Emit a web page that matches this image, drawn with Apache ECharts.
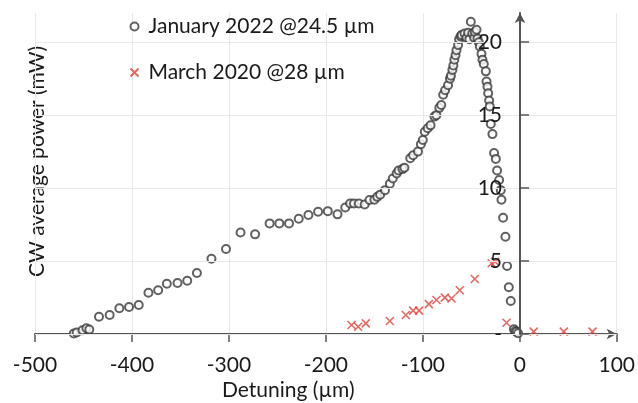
<!DOCTYPE html>
<html>
<head>
<meta charset="utf-8">
<script src="https://cdn.jsdelivr.net/npm/echarts@6/dist/echarts.min.js"></script>
<style>
  html, body { margin: 0; padding: 0; background: #fff; }
  #chart { width: 638px; height: 403px; }
</style>
</head>
<body>
<div id="chart"></div>
<script>
// detuning (um) / power (mW)
var janX = [-460, -457, -451, -447, -444, -434, -423, -413, -403, -393, -383, -373, -364, -353, -343, -333,
  -318, -303, -288, -273, -258, -248, -238, -228, -218, -208, -198, -188, -180, -175, -171, -166, -160,
  -155, -150, -147, -144, -139, -134, -131, -127, -125, -121, -119, -113, -110, -105, -102, -100, -98,
  -95, -92, -88, -86, -83, -81, -79, -77, -74, -72, -71, -69.5, -68.5, -67.5, -66.3, -65.3, -63.6,
  -62.6, -61, -60, -57, -55, -53.3, -52, -50.5, -49, -47, -46.4, -44.6, -43.6, -42.3, -41.2, -39.5,
  -38.5, -37.1, -35, -34.3, -33.3, -32.6, -31.6, -31, -29.9, -28.2, -26.5, -24.7, -23.4, -21.3, -19.6,
  -18.9, -17.2, -14.8, -13.1, -11.3, -9.3, -6, -4.5, -3.4, -1.8];
var janY = [0.03, 0.1, 0.25, 0.4, 0.3, 1.18, 1.3, 1.76, 1.85, 1.99, 2.83, 3.0, 3.45, 3.5, 3.65, 4.18,
  5.16, 5.82, 6.96, 6.83, 7.58, 7.58, 7.58, 7.9, 8.15, 8.38, 8.42, 8.2, 8.67, 8.94, 8.94, 8.94, 8.87,
  9.18, 9.2, 9.4, 9.55, 9.86, 10.3, 10.66, 11.0, 11.2, 11.3, 11.4, 12.05, 12.25, 12.5, 13.0, 13.3, 13.86,
  14.1, 14.3, 14.9, 15.0, 15.5, 15.7, 16.4, 16.7, 17.05, 17.5, 17.7, 18.1, 18.4, 18.8, 19.1, 19.45, 19.8,
  20.2, 20.4, 20.5, 20.6, 20.3, 20.65, 20.2, 21.4, 20.6, 20.3, 20.7, 20.85, 20.25, 20.0, 19.7, 19.2,
  18.8, 18.5, 18.0, 17.3, 16.95, 16.5, 16.0, 15.6, 14.4, 13.7, 12.4, 12.0, 11.2, 10.55, 9.86,
  9.2, 7.97, 6.67, 4.66, 3.2, 2.26, 0.32, 0.2, 0.15, 0.05];

var marX = [-173.5, -166.7, -158.8, -134, -117.5, -110, -103.8, -93.8, -85.9, -77.3, -70.4, -61.9,
  -46.4, -29, -25.5, -13.7, 14.4, 45.4, 75];
var marY = [0.62, 0.5, 0.73, 0.89, 1.3, 1.6, 1.6, 2.05, 2.33, 2.49, 2.43, 3.0,
  3.77, 4.85, 4.95, 0.77, 0.16, 0.16, 0.16];

var xTicks = [-500, -400, -300, -200, -100, 0, 100];
var yTicks = [0, 5, 10, 15, 20];

function pairs(xs, ys) {
  return xs.map(function (x, i) { return [x, ys[i]]; });
}

var font = 'Lato';
var crossPath = 'path://M0,0L10,10M10,0L0,10';

var chart = echarts.init(document.getElementById('chart'));
chart.setOption({
  animation: false,
  textStyle: { fontFamily: font },
  grid: { left: 35, right: 21, top: 13, bottom: 69 },
  legend: {
    orient: 'vertical',
    left: 123,
    top: 11,
    itemGap: 25,
    itemWidth: 10,
    itemHeight: 8,
    textStyle: { fontFamily: font, fontSize: 21, color: '#1a1a1a', padding: [0, 0, 0, 4] },
    data: [
      { name: 'January 2022 @24.5 µm' },
      { name: 'March 2020 @28 µm' }
    ]
  },
  xAxis: {
    type: 'value',
    min: -500,
    max: 100,
    interval: 100,
    axisLine: { lineStyle: { color: '#555', width: 2 }, symbol: ['none', 'arrow'], symbolSize: [8, 10] },
    axisTick: { length: 8, lineStyle: { color: '#555', width: 1.5 }, customValues: xTicks },
    axisLabel: { fontSize: 21, color: '#1a1a1a', margin: 21, fontFamily: font, customValues: xTicks },
    splitLine: { show: true, lineStyle: { color: '#e8e8e8', width: 1 } }
  },
  yAxis: {
    type: 'value',
    min: 0,
    max: 22,
    interval: 5,
    position: 'left',
    offset: -485,
    z: 5,
    axisLine: { onZero: false, lineStyle: { color: '#555', width: 2 }, symbol: ['none', 'arrow'], symbolSize: [8, 10] },
    axisTick: { inside: true, length: 9, lineStyle: { color: '#555', width: 1.5 }, customValues: yTicks },
    axisLabel: {
      fontSize: 21, color: '#1a1a1a', margin: 18, fontFamily: font, customValues: yTicks,
      formatter: function (v) { return v === 0 ? '-' : v; }
    },
    splitLine: { show: true, lineStyle: { color: '#e8e8e8', width: 1 } }
  },
  graphic: [
    {
      type: 'text', left: 222, top: 380,
      style: { text: 'Detuning (µm)', fontSize: 21, fontFamily: font, fill: '#1a1a1a' }
    },
    {
      type: 'text', x: 27, y: 277, rotation: Math.PI / 2,
      style: { text: 'CW average power (mW)', fontSize: 21, fontFamily: font, fill: '#1a1a1a' }
    }
  ],
  series: [
    {
      name: 'January 2022 @24.5 µm',
      type: 'scatter',
      symbol: 'emptyCircle',
      symbolSize: 8,
      itemStyle: { color: '#3a3a3a', borderColor: '#3a3a3a', borderWidth: 1.3 },
      data: pairs(janX, janY),
      z: 3
    },
    {
      name: 'March 2020 @28 µm',
      type: 'scatter',
      symbol: crossPath,
      symbolSize: 8,
      itemStyle: { color: 'none', borderColor: '#e2413b', borderWidth: 1.6 },
      data: pairs(marX, marY),
      z: 2
    }
  ]
});
</script>
</body>
</html>
